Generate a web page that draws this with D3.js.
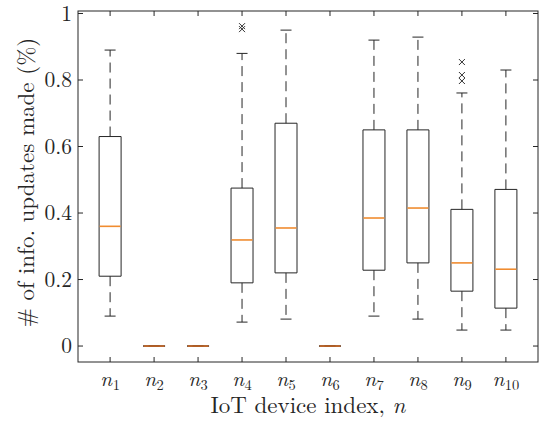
<!DOCTYPE html>
<html>
<head>
<meta charset="utf-8">
<script src="https://cdn.jsdelivr.net/npm/d3@7"></script>
</head>
<body style="margin:0;background:#fff">
<svg id="chart" width="539" height="423" style="display:block"></svg>
<script>
// ---- data ----
const categories = ["1","2","3","4","5","6","7","8","9","10"];
const whiskerLow  = [0.09, 0, 0, 0.072, 0.081, 0, 0.09, 0.081, 0.048, 0.048];
const q1          = [0.21, 0, 0, 0.19, 0.22, 0, 0.228, 0.25, 0.165, 0.114];
const medians     = [0.36, 0, 0, 0.319, 0.355, 0, 0.385, 0.415, 0.25, 0.231];
const q3          = [0.63, 0, 0, 0.475, 0.67, 0, 0.65, 0.65, 0.411, 0.471];
const whiskerHigh = [0.89, 0, 0, 0.88, 0.95, 0, 0.92, 0.929, 0.761, 0.83];
const outliers    = [[4, 0.953], [4, 0.962], [9, 0.854], [9, 0.815], [9, 0.797]];
const yTicks      = [0, 0.2, 0.4, 0.6, 0.8, 1];
const yTickLabels = ["0", "0.2", "0.4", "0.6", "0.8", "1"];
const yLabel = "# of info. updates made (%)";
const xLabel = "IoT device index, ";

// ---- layout ----
const FONT = "'Latin Modern Roman', 'CMU Serif', 'Liberation Serif', serif";
const svg = d3.select("#chart");
const L = 78, R = 538, T = 11, B = 362;
const x = d3.scaleLinear().domain([0.27, 10.73]).range([L, R]);
const y = d3.scaleLinear().domain([-0.048, 1.0075]).range([B, T]);
const axisColor = "#262626";
const boxColor = "#262626";
const medColor = "#f08c30";
const boxHalf = 0.25, capHalf = 0.125;

const data = categories.map((c, i) => ({
  idx: i + 1, c, lo: whiskerLow[i], q1: q1[i], med: medians[i], q3: q3[i], hi: whiskerHigh[i]
}));

const g = svg.append("g");

// whiskers (dashed)
data.filter(d => d.hi > d.q3).forEach(d => {
  g.append("line").attr("x1", x(d.idx)).attr("x2", x(d.idx))
    .attr("y1", y(d.q3)).attr("y2", y(d.hi))
    .attr("stroke", boxColor).attr("stroke-width", 1).attr("stroke-dasharray", "10,6");
});
data.filter(d => d.lo < d.q1).forEach(d => {
  g.append("line").attr("x1", x(d.idx)).attr("x2", x(d.idx))
    .attr("y1", y(d.q1)).attr("y2", y(d.lo))
    .attr("stroke", boxColor).attr("stroke-width", 1).attr("stroke-dasharray", "10,6");
});
// caps
data.forEach(d => {
  [d.lo, d.hi].forEach(v => {
    g.append("line").attr("x1", x(d.idx - capHalf)).attr("x2", x(d.idx + capHalf))
      .attr("y1", y(v)).attr("y2", y(v))
      .attr("stroke", boxColor).attr("stroke-width", 1);
  });
});
// boxes (as paths so zero-height boxes still draw)
data.forEach(d => {
  const x0 = x(d.idx - boxHalf), x1 = x(d.idx + boxHalf);
  const yt = y(d.q3), yb = y(d.q1);
  g.append("path")
    .attr("d", `M${x0},${yb}L${x0},${yt}L${x1},${yt}L${x1},${yb}Z`)
    .attr("fill", "none").attr("stroke", boxColor).attr("stroke-width", 1);
});
// medians
data.forEach(d => {
  g.append("line").attr("x1", x(d.idx - boxHalf) + 0.5).attr("x2", x(d.idx + boxHalf) - 0.5)
    .attr("y1", y(d.med)).attr("y2", y(d.med))
    .attr("stroke", d.q3 === d.q1 ? "#cf6a24" : medColor).attr("stroke-width", 1.6);
});
// outliers (x markers)
const ms = 3;
outliers.forEach(([i, v]) => {
  const cx = x(i), cy = y(v);
  g.append("path")
    .attr("d", `M${cx-ms},${cy-ms}L${cx+ms},${cy+ms}M${cx-ms},${cy+ms}L${cx+ms},${cy-ms}`)
    .attr("stroke", "#333").attr("stroke-width", 1).attr("fill", "none");
});

// ---- axes box ----
const ax = svg.append("g");
ax.append("rect").attr("x", L).attr("y", T).attr("width", R - L).attr("height", B - T)
  .attr("fill", "none").attr("stroke", axisColor).attr("stroke-width", 1);
const tl = 5;
yTicks.forEach((v, i) => {
  ax.append("line").attr("x1", L).attr("x2", L + tl).attr("y1", y(v)).attr("y2", y(v)).attr("stroke", axisColor);
  ax.append("line").attr("x1", R).attr("x2", R - tl).attr("y1", y(v)).attr("y2", y(v)).attr("stroke", axisColor);
  ax.append("text").attr("x", L - 6).attr("y", y(v)).attr("dy", "0.33em")
    .style("font-family", FONT).attr("fill", "#262626")
    .attr("text-anchor", "end").attr("font-size", 21.5).text(yTickLabels[i]);
});
data.forEach(d => {
  ax.append("line").attr("x1", x(d.idx)).attr("x2", x(d.idx)).attr("y1", B).attr("y2", B - tl).attr("stroke", axisColor);
  ax.append("line").attr("x1", x(d.idx)).attr("x2", x(d.idx)).attr("y1", T).attr("y2", T + tl).attr("stroke", axisColor);
  const t = ax.append("text").attr("x", x(d.idx)).attr("y", 386)
    .style("font-family", FONT).attr("fill", "#262626")
    .attr("text-anchor", "middle").attr("font-size", 21);
  t.append("tspan").attr("font-style", "italic").text("n");
  t.append("tspan").attr("font-size", 14.5).attr("dx", 0.5).attr("dy", 4).text(d.c);
});

// axis labels
const xl = svg.append("text").attr("x", 308).attr("y", 413).attr("text-anchor", "middle")
  .style("font-family", FONT).attr("fill", "#262626").attr("font-size", 23);
xl.append("tspan").text(xLabel);
xl.append("tspan").attr("font-style", "italic").text("n");

svg.append("text").attr("transform", "translate(34,182.5) rotate(-90)")
  .style("font-family", FONT).attr("fill", "#262626")
  .attr("text-anchor", "middle").attr("font-size", 23).text(yLabel);
</script>
</body>
</html>
